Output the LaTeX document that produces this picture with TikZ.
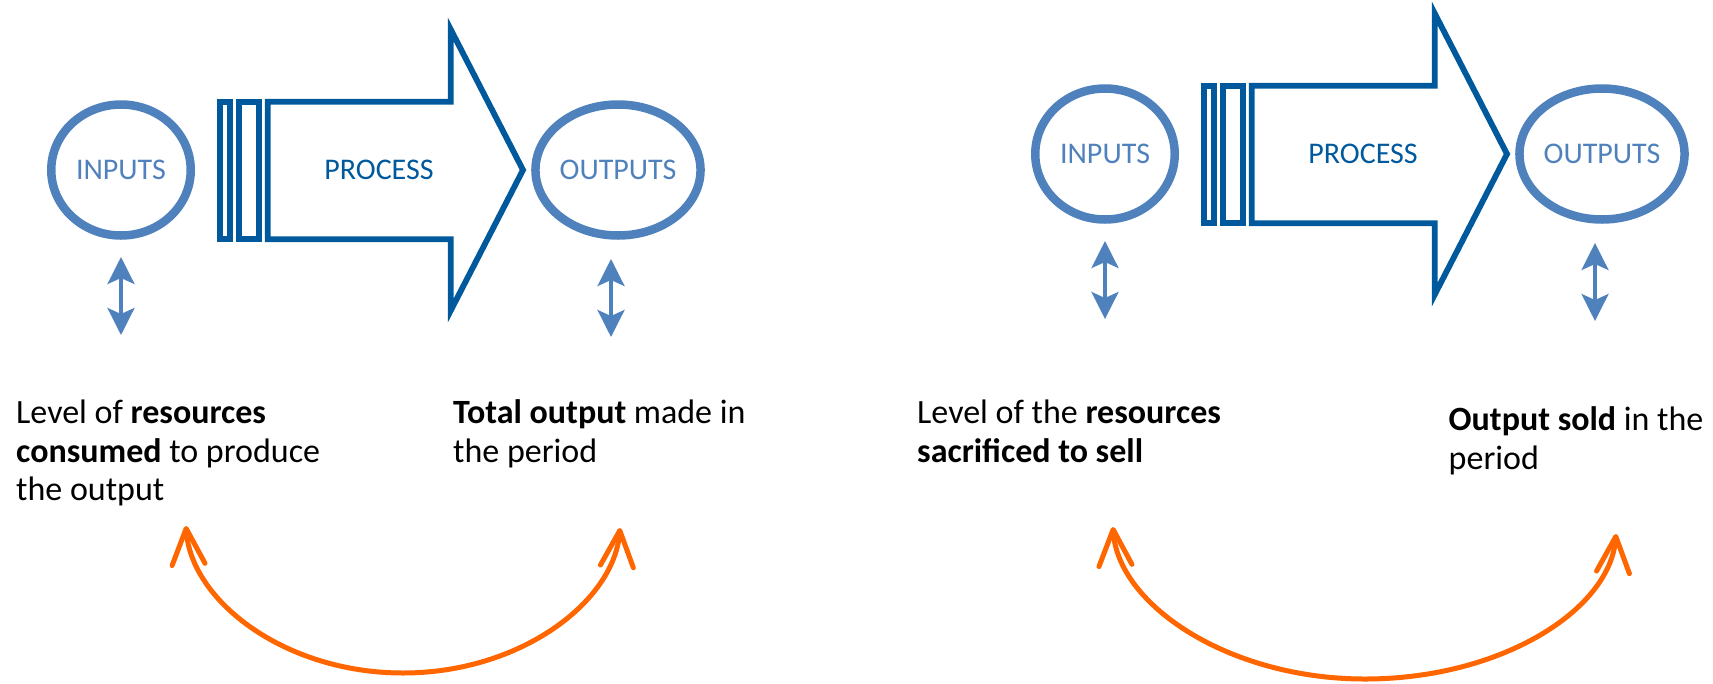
\documentclass[tikz,border=0pt]{standalone}
\usepackage{fontspec}
\setmainfont{Carlito}
\usetikzlibrary{shapes.geometric,arrows.meta}

\definecolor{ringblue}{HTML}{4F81BD}
\definecolor{procblue}{HTML}{00599C}
\definecolor{swingorange}{HTML}{FF6600}

\tikzset{
  inoutring/.style={ellipse, draw=ringblue, line width=8.5pt, inner sep=0pt,
    minimum width=139.5pt, minimum height=131pt, text=ringblue,
    font=\fontsize{30}{36}\selectfont},
  proctext/.style={inner sep=0pt, text=procblue, font=\fontsize{30}{36}\selectfont},
  procline/.style={draw=procblue, line width=5.8pt, miter limit=20},
  twoway/.style={draw=ringblue, line width=3.6pt,
    arrows={Stealth[length=27pt,width=27pt,inset=6pt]-Stealth[length=27pt,width=27pt,inset=6pt]}},
  swing/.style={draw=swingorange, line width=5pt, line cap=round,
    arrows={Straight Barb[length=36pt,width=33pt,round]-Straight Barb[length=36pt,width=33pt,round]}},
  note/.style={anchor=base west, inner sep=0pt, font=\fontsize{34}{38.7}\selectfont},
  % one input -> process -> output chain
  flow/.pic={
    \node[inoutring] (-in) at (121,170) {INPUTS};
    \node[inoutring] (-out) at (618,170) {OUTPUTS};
    \draw[procline] (219.75,101.75) rectangle (230.25,239.25);
    \draw[procline] (238.75,101.75) rectangle (259.25,239.25);
    \draw[procline] (267.75,101.75) -- (450.75,101.75) -- (450.75,29.5)
      -- (523,170) -- (450.75,310.5) -- (450.75,239.25) -- (267.75,239.25) -- cycle;
    \node[proctext] (-proc) at (379,170) {PROCESS};
    \coordinate (-ina) at (121,257);
    \coordinate (-inb) at (121,335);
    \coordinate (-outa) at (611,259);
    \coordinate (-outb) at (611,337);
    \draw[twoway] (-ina) -- (-inb);
    \draw[twoway] (-outa) -- (-outb);
  }
}

\begin{document}
\begin{tikzpicture}[x=1pt,y=-1pt]
\useasboundingbox (0,0) rectangle (1713,683);

\pic (L) at (0,0) {flow};
\pic (R) at (984,-16) {flow};

% descriptions
\node[note] (ltxt) at (16,423.5) {\begin{tabular}[t]{@{}l@{}}Level of \textbf{resources}\\ \textbf{consumed} to produce\\ the output\end{tabular}};
\node[note] (ttxt) at (453,423.5) {\begin{tabular}[t]{@{}l@{}}\textbf{Total output} made in\\ the period\end{tabular}};
\node[note] (stxt) at (917,423.5) {\begin{tabular}[t]{@{}l@{}}Level of the \textbf{resources}\\ \textbf{sacrificed to sell}\end{tabular}};
\node[note] (otxt) at (1448.5,430.5) {\begin{tabular}[t]{@{}l@{}}\textbf{Output sold} in the\\ period\end{tabular}};

% curved links between the two descriptions
\coordinate (la) at (186,526);
\coordinate (lb) at (403,673);
\coordinate (lc) at (620,528);
\draw[swing] (la) .. controls +(5,75) and +(-118,0) .. (lb)
  .. controls +(117,0) and +(-6,74) .. (lc);

\coordinate (ra) at (1113,527);
\coordinate (rb) at (1365,679);
\coordinate (rc) at (1616,534);
\draw[swing] (ra) .. controls +(5,78) and +(-136,0) .. (rb)
  .. controls +(136,0) and +(-6,76) .. (rc);
\end{tikzpicture}
\end{document}
